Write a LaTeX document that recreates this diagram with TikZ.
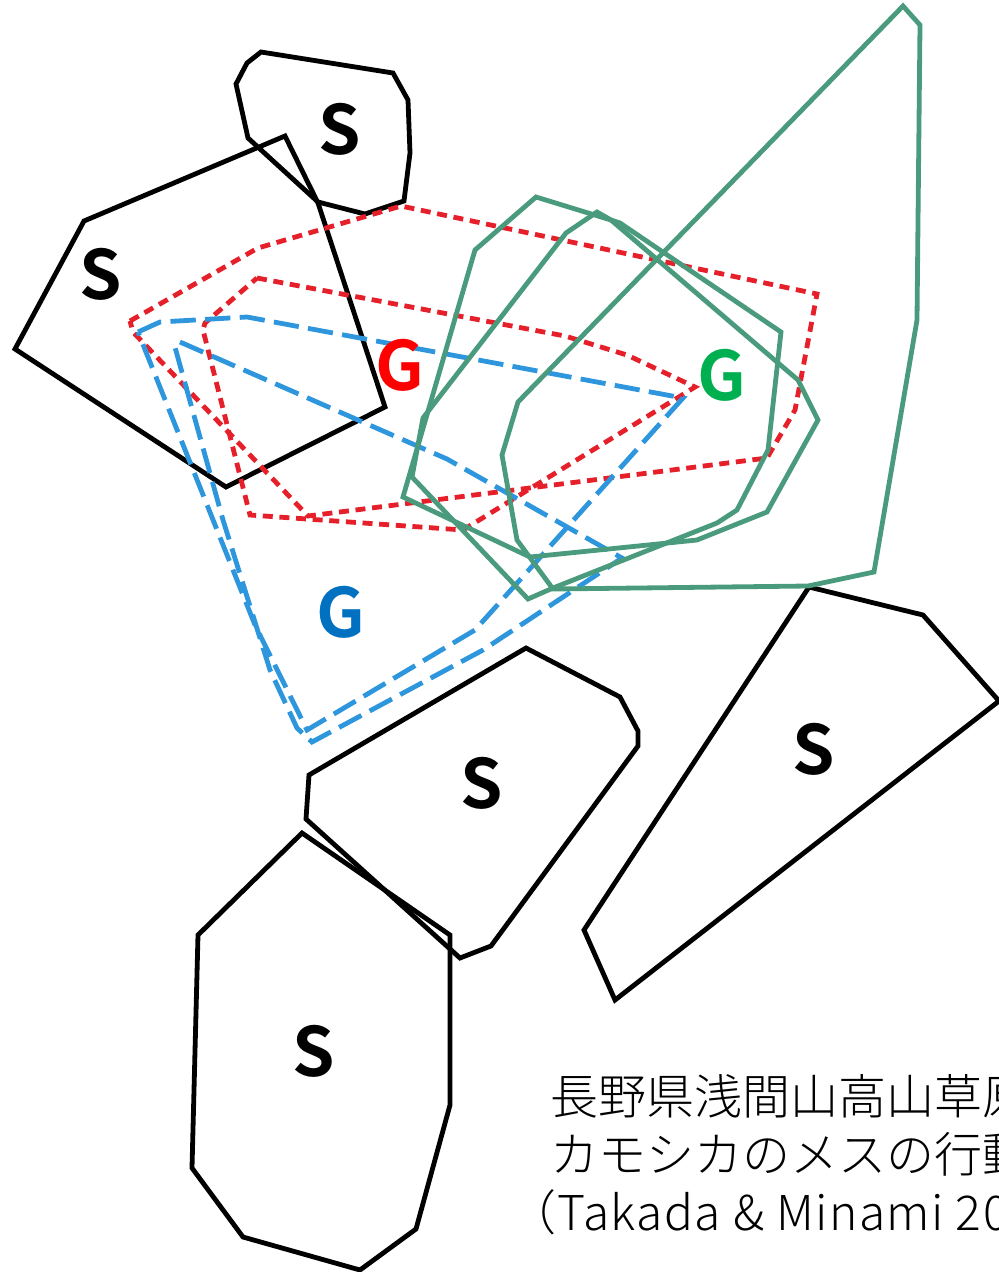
\documentclass[tikz,border=0pt]{standalone}
\usepackage{fontspec}
\setmainfont{Noto Sans CJK JP}[UprightFont={* Light}, BoldFont={*}, BoldFeatures={FakeBold=0}]
\newfontfamily\letterfont{Noto Sans CJK JP Bold}
\usepackage{tikz, xcolor}
\definecolor{rangegreen}{HTML}{4A9B7E}
\definecolor{rangered}{HTML}{E5202A}
\definecolor{rangeblue}{HTML}{2E96DC}
\definecolor{labelgreen}{HTML}{00B050}
\definecolor{labelblue}{HTML}{0070C0}

\begin{document}
\begin{tikzpicture}[x=0.75pt, y=-0.75pt, line join=miter,
    sarea/.style={line width=3.6pt, color=black},
    garea/.style={line width=3.6pt, color=rangegreen},
    rarea/.style={line width=3.6pt, color=rangered, dash pattern=on 7.5pt off 5pt},
    barea/.style={line width=3.6pt, color=rangeblue, dash pattern=on 19pt off 7pt},
    letter/.style={font=\letterfont\fontsize{51pt}{51pt}\selectfont, inner sep=0pt},
    caption/.style={font=\fontsize{36pt}{36pt}\selectfont, anchor=base west, inner sep=0pt}]
    \useasboundingbox (0,0) rectangle (999,1272);
    \draw [sarea] (261,52) -- (393,73) -- (408,100) -- (410,153) -- (404,201) -- (365,214) -- (318,202) -- (248,138) -- (236,84) -- (247,63) -- cycle;
    \draw [sarea] (84,221) -- (285,136) -- (318,203) -- (385,407) -- (226,487) -- (15,349) -- cycle;
    \draw [sarea] (526,648) -- (620,697) -- (638,731) -- (638,746) -- (491,946) -- (460,958) -- (306,819) -- (309,775) -- cycle;
    \draw [sarea] (809,587) -- (923,615) -- (999,701) -- (615,1000) -- (584,930) -- cycle;
    \draw [sarea] (302,833) -- (450,935) -- (450,1105) -- (416,1229) -- (360,1270) -- (243,1237) -- (192,1168) -- (198,935) -- cycle;
    \draw [rarea] (130,321) -- (258,248) -- (401,206) -- (817,294) -- (795,410) -- (767,458) -- (308,516) -- (133,332) -- cycle;
    \draw [rarea] (257,278) -- (565,336) -- (627,355) -- (695,387) -- (463,530) -- (250,515) -- (203,330) -- (205,323) -- cycle;
    \draw [barea] (138,332) -- (160,322) -- (247,317) -- (683,398) -- (475,630) -- (307,730) -- (255,625) -- cycle;
    \draw [barea] (180,342) -- (447,459) -- (622,558) -- (483,650) -- (312,742) -- (297,728) -- (270,670) -- (223,520) -- (173,340);
    \draw [garea] (903,6) -- (920,25) -- (917,320) -- (874,572) -- (808,586) -- (553,589) -- (517,540) -- (502,455) -- (518,402) -- cycle;
    \draw [garea] (597,212) -- (611,220) -- (620,223) -- (781,332) -- (768,450) -- (737,510) -- (717,523) -- (553,588) -- (528,599) -- (412,477) -- (423,418) -- (566,233) -- cycle;
    \draw [garea] (536,197) -- (475,250) -- (403,497) -- (530,557) -- (697,540) -- (767,512) -- (818,420) -- (798,380) -- (611,220) -- cycle;
    \node (stop) at (340,129) [letter] {S};
    \node (sleft) at (101,274) [letter] {S};
    \node (sright) at (814,749) [letter] {S};
    \node (smiddle) at (482,783) [letter] {S};
    \node (sbottom) at (314,1051) [letter] {S};
    \node (gred) at (400,365) [letter, color=red] {G};
    \node (ggreen) at (722,375) [letter, color=labelgreen] {G};
    \node (gblue) at (341,612) [letter, color=labelblue] {G};
    \node (captiona) at (550,1114) [caption] {長野県浅間山高山草原};
    \node (captionb) at (550,1172) [caption] {カモシカのメスの行動};
    \node (captionc) at (508,1230) [caption] {\addfontfeature{LetterSpace=3}（Takada \& Minami 20};
\end{tikzpicture}
\end{document}
